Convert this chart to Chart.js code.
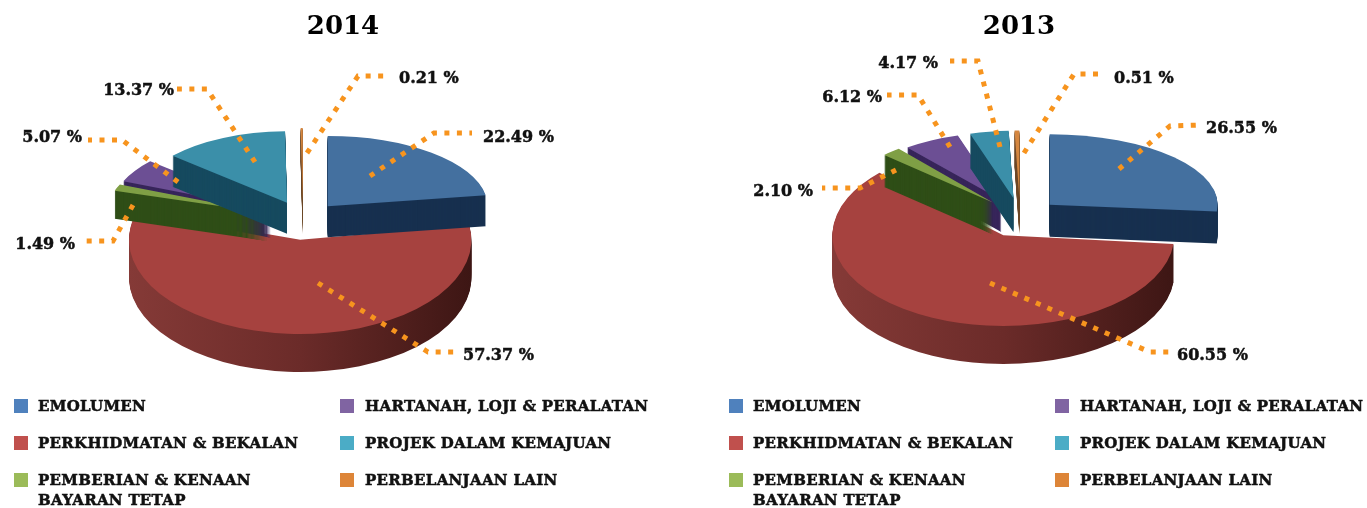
<!DOCTYPE html>
<html>
<head>
<meta charset="utf-8">
<title>Perbelanjaan 2014 / 2013</title>
<script src="https://cdn.jsdelivr.net/npm/chart.js@4"></script>
<style>
html, body { margin: 0; padding: 0; background: #fff; overflow: hidden; }
.wrap { position: absolute; top: 0; height: 508px; }
</style>
</head>
<body>
<div class="wrap" style="left:0;width:686px"><canvas id="pie2014"></canvas></div>
<div class="wrap" style="left:671px;width:696px"><canvas id="pie2013"></canvas></div>
<script>
var categories = ["EMOLUMEN", "PERKHIDMATAN & BEKALAN", "PEMBERIAN & KENAAN BAYARAN TETAP",
    "HARTANAH, LOJI & PERALATAN", "PROJEK DALAM KEMAJUAN", "PERBELANJAAN LAIN"];
var values2014 = [22.49, 57.37, 1.49, 5.07, 13.37, 0.21];
var values2013 = [26.55, 60.55, 2.10, 6.12, 4.17, 0.51];

var faceColors = ["#44709f", "#a6423f", "#7f9f45", "#6c4f94", "#3b8fa9", "#d5863f"];
var wallColors = ["#17304f", null, "#2f4e17", "#37255a", "#164a5f", "#6e4a2a"];
var legendColors = ["#4f81bd", "#c0504d", "#9bbb59", "#8064a2", "#4bacc6", "#dd8538"];
var paintOrder = [1, 3, 2, 4, 5, 0];
var font = "'DejaVu Serif'";

// leader lines, canvas coordinates of each chart
var view2014 = {
    cx: 303, cy: 219, radius: 160, explode: 38,
    squash: [0.44, 0.55, 0.46, 0.46, 0.47, 0.46],
    grow: [1, 1.07, 1, 1, 0.95, 1],
    depth: [31, 38, 28, 28, 31, 33],
    leaders: [
        [[370, 176], [434, 133], [472, 133]],
        [[318, 283], [428, 352], [455, 352]],
        [[133, 205], [113, 241], [80, 241]],
        [[178, 182], [122, 140], [88, 140]],
        [[255, 162], [207, 89], [177, 89]],
        [[307, 153], [358, 76], [390, 76]]
    ],
    labelAt: [[483, 138, "left"], [463, 356, "left"], [75, 245, "right"],
        [82, 138, "right"], [174, 91, "right"], [399, 79, "left"]],
    legendX: [14, 340], legendText: [38, 365]
};
var view2013 = {
    cx: 349, cy: 216, radius: 150, explode: 40,
    squash: [0.42, 0.53, 0.46, 0.45, 0.45, 0.45],
    grow: [1.12, 1.14, 1, 1, 1, 1],
    depth: [32, 38, 32, 32, 34, 36],
    leaders: [
        [[448, 169], [499, 126], [529, 125]],
        [[319, 283], [479, 352], [499, 352]],
        [[225, 170], [189, 188], [151, 188]],
        [[279, 147], [247, 95], [216, 95]],
        [[329, 147], [307, 61], [279, 61]],
        [[353, 153], [403, 74], [432, 74]]
    ],
    labelAt: [[535, 129, "left"], [506, 356, "left"], [142, 192, "right"],
        [211, 98, "right"], [267, 64, "right"], [443, 79, "left"]],
    legendX: [58, 384], legendText: [82, 409]
};

function plainArcOptions(fill) {
    return { backgroundColor: fill, borderColor: fill, borderWidth: 0, offset: 0, spacing: 0,
        borderRadius: 0, circular: true, borderAlign: "center", borderDash: [], borderDashOffset: 0,
        borderJoinStyle: "round" };
}

// filled text with a thin outline, the reference type is heavier than DejaVu bold
function heavyText(ctx, text, x, y) {
    ctx.fillText(text, x, y);
    ctx.strokeText(text, x, y);
}

var pie3d = {
    id: "pie3d",
    beforeDatasetsDraw: function(chart) {
        var v = chart.options.plugins.pie3d.view;
        var ctx = chart.ctx;
        var arcs = chart.getDatasetMeta(0).data;
        paintOrder.forEach(function(i) {
            var arc = arcs[i];
            var mid = (arc.startAngle + arc.endAngle) / 2;
            var saved = arc.options;
            var s = v.squash[i], g = v.grow[i];
            var px = v.cx + Math.cos(mid) * v.explode;
            var py = v.cy + Math.sin(mid) * v.explode * s;
            function place(d) {
                ctx.save();
                ctx.translate(px, py + d);
                ctx.scale(g, s * g);
                ctx.translate(-arc.x, -arc.y);
            }
            var wall = wallColors[i];
            if (!wall) {
                wall = ctx.createLinearGradient(arc.x - v.radius, 0, arc.x + v.radius, 0);
                wall.addColorStop(0, "#853a37");
                wall.addColorStop(0.5, "#6b2b29");
                wall.addColorStop(1, "#3d1614");
            }
            arc.options = plainArcOptions(wall);
            for (var d = v.depth[i]; d > 0; d--) {
                place(d);
                arc.draw(ctx);
                ctx.restore();
            }
            arc.options = saved;
            place(0);
            arc.draw(ctx);
            ctx.restore();
        });
        return false;
    },
    afterDraw: function(chart) {
        var v = chart.options.plugins.pie3d.view;
        var data = chart.data.datasets[0].data;
        var ctx = chart.ctx;
        ctx.save();
        // dotted leaders
        ctx.strokeStyle = "#f7941e";
        ctx.lineWidth = 5;
        ctx.setLineDash([5, 7.5]);
        v.leaders.forEach(function(pts) {
            ctx.beginPath();
            pts.forEach(function(p, k) {
                if (k === 0) ctx.moveTo(p[0], p[1]);
                else ctx.lineTo(p[0], p[1]);
            });
            ctx.stroke();
        });
        ctx.setLineDash([]);
        // value labels
        ctx.fillStyle = "#111";
        ctx.strokeStyle = "#111";
        ctx.lineWidth = 0.5;
        ctx.textBaseline = "middle";
        ctx.font = "bold 16px " + font;
        data.forEach(function(val, i) {
            var at = v.labelAt[i];
            ctx.textAlign = at[2];
            heavyText(ctx, val.toFixed(2) + " %", at[0], at[1]);
        });
        // legend, two columns of three
        ctx.textAlign = "left";
        ctx.font = "bold 15px " + font;
        ctx.letterSpacing = "0.3px";
        var rows = [406, 443, 480];
        categories.forEach(function(name, i) {
            var col = i < 3 ? 0 : 1;
            var y = rows[i % 3];
            ctx.fillStyle = legendColors[i];
            ctx.fillRect(v.legendX[col], y - 7, 14, 14);
            ctx.fillStyle = "#111";
            if (i === 2) {
                heavyText(ctx, "PEMBERIAN & KENAAN", v.legendText[col], y + 1);
                heavyText(ctx, "BAYARAN TETAP", v.legendText[col], y + 21);
            } else {
                heavyText(ctx, name, v.legendText[col], y + 1);
            }
        });
        ctx.restore();
    }
};

function makePie(id, title, values, view) {
    return new Chart(document.getElementById(id), {
        type: "pie",
        data: {
            labels: categories,
            datasets: [{ data: values, backgroundColor: faceColors, borderWidth: 0 }]
        },
        options: {
            responsive: true,
            maintainAspectRatio: false,
            animation: false,
            events: [],
            radius: view.radius,
            plugins: {
                legend: { display: false },
                tooltip: { enabled: false },
                title: {
                    display: true,
                    text: title,
                    color: "#000",
                    font: { family: font, size: 26, weight: "bold" },
                    padding: { top: 12, bottom: 0 }
                },
                pie3d: { view: view }
            }
        },
        plugins: [pie3d]
    });
}

makePie("pie2014", "2014", values2014, view2014);
makePie("pie2013", "2013", values2013, view2013);
</script>
</body>
</html>
